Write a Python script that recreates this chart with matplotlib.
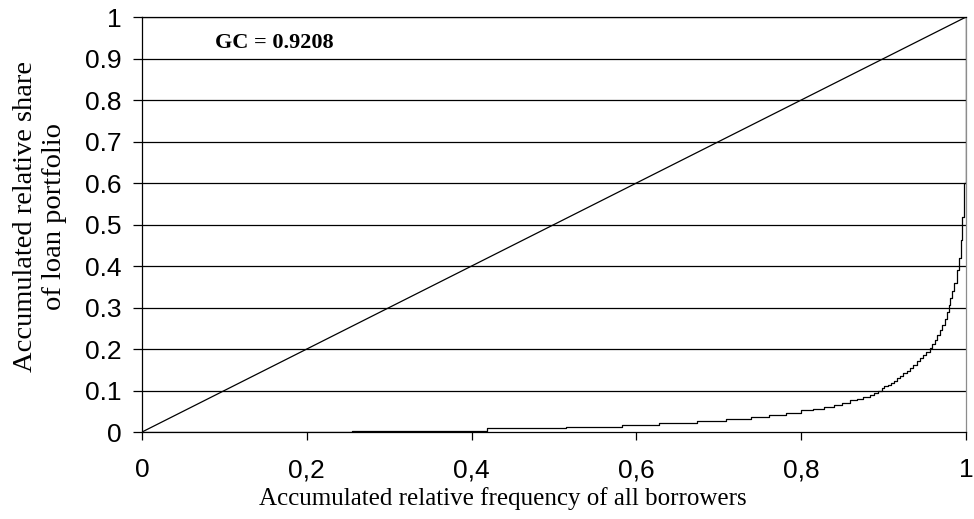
import matplotlib.pyplot as plt

# step points of the Lorenz curve (x where the step happens, y after it)
borrowerShare = [0.0, 0.255, 0.419, 0.515, 0.582, 0.628, 0.674, 0.709, 0.739, 0.761,
                 0.781, 0.800, 0.814, 0.828, 0.840, 0.850, 0.859, 0.868, 0.875, 0.883,
                 0.888, 0.893, 0.898, 0.901, 0.905, 0.909, 0.912, 0.916, 0.920, 0.924,
                 0.928, 0.932, 0.936, 0.940, 0.944, 0.948, 0.952, 0.956, 0.959, 0.962,
                 0.965, 0.968, 0.971, 0.974, 0.977, 0.979, 0.981, 0.983, 0.986, 0.9887,
                 0.992, 0.9939, 0.9955, 0.9973, 0.9996, 1.0]
loanShare = [0.0, 0.003, 0.009, 0.013, 0.018, 0.0225, 0.027, 0.032, 0.037, 0.042,
             0.047, 0.052, 0.056, 0.061, 0.066, 0.071, 0.076, 0.080, 0.085, 0.090,
             0.095, 0.100, 0.105, 0.110, 0.114, 0.119, 0.124, 0.130, 0.136, 0.142,
             0.148, 0.155, 0.162, 0.170, 0.178, 0.186, 0.194, 0.203, 0.212, 0.222,
             0.233, 0.245, 0.258, 0.272, 0.288, 0.305, 0.322, 0.340, 0.360, 0.390,
             0.420, 0.462, 0.519, 0.600, 0.780, 1.0]

xTicks = [0, 0.2, 0.4, 0.6, 0.8, 1]
xTickLabels = ['0', '0,2', '0,4', '0,6', '0,8', '1']
yTicks = [0, 0.1, 0.2, 0.3, 0.4, 0.5, 0.6, 0.7, 0.8, 0.9, 1]
yTickLabels = ['0', '0.1', '0.2', '0.3', '0.4', '0.5', '0.6', '0.7', '0.8', '0.9', '1']
giniText = 'GC = 0.9208'

fig = plt.figure(figsize=(9.74, 5.19), dpi=100)
ax = fig.add_axes([0.1458, 0.1676, 0.846, 0.7996])

for y in yTicks[1:]:
    ax.axhline(y, color='black', lw=0.9, zorder=1)

ax.plot([0, 1], [0, 1], color='black', lw=0.9, zorder=2)
ax.step(borrowerShare, loanShare, where='post', color='black', lw=0.9, zorder=3)

ax.set_xlim(0, 1)
ax.set_ylim(0, 1)
ax.set_xticks(xTicks)
ax.set_xticklabels(xTickLabels, fontsize=19, family='Liberation Sans')
ax.set_yticks(yTicks)
ax.set_yticklabels(yTickLabels, fontsize=19, family='Liberation Sans')
ax.tick_params(axis='x', direction='out', length=6, width=0.9, pad=13)
ax.tick_params(axis='y', direction='out', length=6.5, width=0.9, pad=8)

ax.spines['left'].set_color('black')
ax.spines['bottom'].set_color('black')
ax.spines['top'].set_color('black')
ax.spines['right'].set_color('#8c8c8c')
for s in ax.spines.values():
    s.set_linewidth(0.9)

ax.text(0.0886, 0.925, giniText, fontsize=16, fontweight='bold',
        family='Liberation Serif', va='baseline', ha='left')

fig.text(503 / 974, 1 - 499 / 519, 'Accumulated relative frequency of all borrowers',
         fontsize=18, family='Liberation Serif', ha='center', va='center')
fig.text(40 / 974, 1 - 217 / 519, 'Accumulated relative share\nof loan portfolio',
         fontsize=20.5, family='Liberation Serif', ha='center', va='center',
         rotation=90, multialignment='center', linespacing=1.22)

fig.savefig('out.png', dpi=100)
